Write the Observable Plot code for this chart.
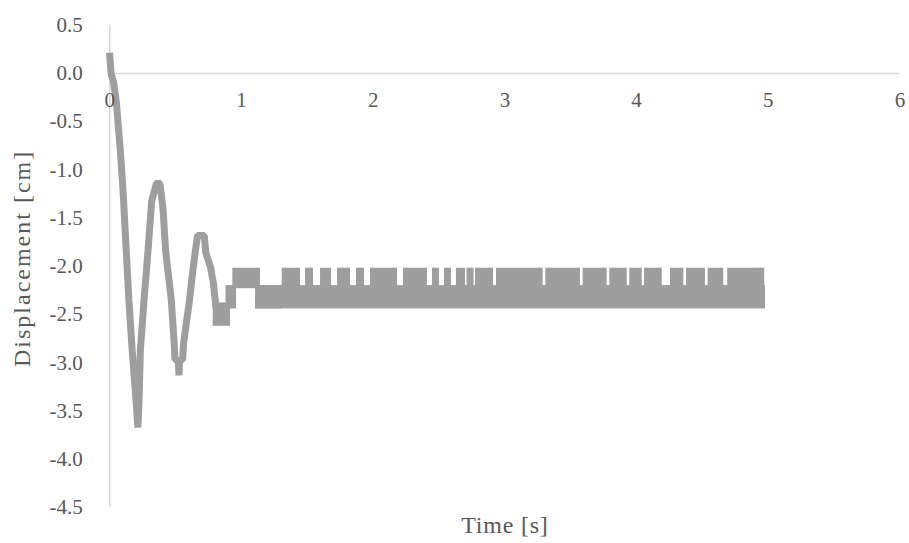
<!DOCTYPE html>
<html>
<head>
<meta charset="utf-8">
<script src="https://cdn.jsdelivr.net/npm/d3@7"></script>
<script src="https://cdn.jsdelivr.net/npm/@observablehq/plot@0.6"></script>
<style>
  html, body { margin: 0; padding: 0; background: #fff; }
  #chart svg, #chart svg text { font-family: "Liberation Serif", "Times New Roman", serif !important; }
</style>
</head>
<body>
<div id="chart"></div>
<script>
// ---- Data ----
// Damped oscillation (centre line of the trace), time [s] / displacement [cm]
const lineT = [0, 0.01, 0.03, 0.05, 0.08, 0.10, 0.125, 0.145, 0.17, 0.20, 0.213, 0.222, 0.232, 0.26, 0.29, 0.318, 0.352, 0.367, 0.381, 0.404, 0.424, 0.467, 0.489, 0.495, 0.52, 0.525, 0.53, 0.553, 0.56, 0.605, 0.63, 0.648, 0.666, 0.717, 0.729, 0.765, 0.787, 0.805];
const lineV = [0.18, 0.0, -0.1, -0.3, -0.8, -1.2, -1.84, -2.35, -2.87, -3.4, -3.67, -3.4, -2.87, -2.35, -1.84, -1.32, -1.15, -1.13, -1.15, -1.4, -1.84, -2.35, -2.8, -2.97, -2.97, -3.13, -2.97, -2.97, -2.8, -2.35, -2.05, -1.86, -1.68, -1.68, -1.86, -2.01, -2.18, -2.41];

// Intervals where the signal flickers between two quantised levels
const bandT1 = [0.808, 0.905, 0.957, 1.13, 1.13];
const bandT2 = [0.894, 0.94, 1.121, 1.286, 4.956];
const bandLo = [-2.59, -2.41, -2.20, -2.41, -2.41];
const bandHi = [-2.41, -2.23, -2.05, -2.23, -2.23];

// Intervals where the flicker also reaches the upper level (-2.05 cm)
const highT1 = [1.332, 1.509, 1.623, 1.752, 1.896, 2.002, 2.253, 2.473, 2.564, 2.655, 2.735, 2.800, 2.959, 3.333, 3.617, 3.819, 3.971, 4.083, 4.280, 4.402, 4.566, 4.715, 4.940];
const highT2 = [1.425, 1.524, 1.661, 1.805, 1.911, 2.162, 2.389, 2.481, 2.571, 2.678, 2.743, 2.891, 3.268, 3.551, 3.754, 3.906, 4.020, 4.172, 4.336, 4.500, 4.639, 4.905, 4.950];
const highLo = -2.23;
const highHi = -2.05;

const xTicks = [0, 1, 2, 3, 4, 5, 6];
const yTicks = [0.5, 0.0, -0.5, -1.0, -1.5, -2.0, -2.5, -3.0, -3.5, -4.0, -4.5];
const xLabel = "Time [s]";
const yLabel = "Displacement [cm]";

// ---- Build tables ----
const lineData = lineT.map((t, i) => ({t, v: lineV[i]}));
const bands = bandT1.map((t1, i) => ({t1, t2: bandT2[i], lo: bandLo[i], hi: bandHi[i]}));
const highs = highT1.map((t1, i) => ({t1, t2: highT2[i], lo: highLo, hi: highHi}));

const grey = "#9e9e9e";
const axisGrey = "#d9d9d9";
const textGrey = "#595959";
const serif = "Liberation Serif";

const chart = Plot.plot({
  width: 909,
  height: 543,
  marginLeft: 109.3,
  marginRight: 9.5,
  marginTop: 24.8,
  marginBottom: 36,
  style: {fontFamily: serif, fontSize: "21px", color: textGrey, background: "#fff"},
  x: {domain: [0, 6], axis: null},
  y: {domain: [-4.5, 0.5], axis: null},
  marks: [
    Plot.ruleY([0], {stroke: axisGrey, strokeWidth: 1.5}),
    Plot.ruleX([0], {y1: -4.5, y2: 0.5, stroke: axisGrey, strokeWidth: 1.5}),
    Plot.axisY(yTicks, {tickSize: 0, tickPadding: 27, tickFormat: d => d.toFixed(1), fontSize: 21, fontFamily: serif, fill: textGrey}),
    Plot.line(lineData, {x: "t", y: "v", stroke: grey, strokeWidth: 7, strokeLinejoin: "miter", strokeLinecap: "square"}),
    Plot.rect(bands, {x1: "t1", x2: "t2", y1: "lo", y2: "hi", fill: grey, stroke: grey, strokeWidth: 6}),
    Plot.rect(highs, {x1: "t1", x2: "t2", y1: "lo", y2: "hi", fill: grey, stroke: grey, strokeWidth: 6}),
    Plot.text(xTicks, {x: d => d, y: 0, dy: 27, text: d => String(d), lineAnchor: "middle", fontSize: 21, fontFamily: serif, fill: textGrey}),
    Plot.text([xLabel], {frameAnchor: "bottom", dy: 18, textAnchor: "middle", lineAnchor: "middle", fontSize: 24, fontFamily: serif, fill: textGrey}),
    Plot.text([yLabel], {frameAnchor: "left", dx: -87, dy: -8, rotate: -90, textAnchor: "middle", lineAnchor: "middle", fontSize: 24, fontFamily: serif, fill: textGrey})
  ]
});
// letter spacing of the two axis titles (wide, as in the reference)
d3.select(chart).selectAll("text").each(function() {
  const s = this.textContent;
  if (s === yLabel) this.setAttribute("letter-spacing", "2");
  if (s === xLabel) this.setAttribute("letter-spacing", "0.8");
});
document.getElementById("chart").appendChild(chart);
</script>
</body>
</html>
